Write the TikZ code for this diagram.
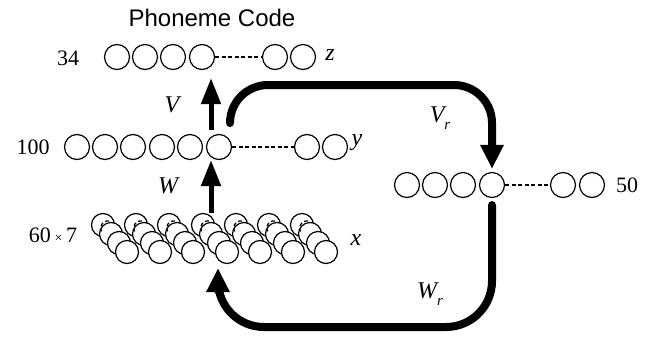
\documentclass[tikz,border=0pt]{standalone}
\usepackage{fontspec}
\setmainfont{Liberation Serif}
\newfontfamily\headfont{Liberation Sans}
\usetikzlibrary{arrows.meta,calc}

\begin{document}
\begin{tikzpicture}[x=1pt,y=-1pt,
        unit/.style={circle,draw,line width=1.2pt,minimum size=25pt,inner sep=0pt,fill=white},
        cell/.style={circle,draw,line width=1.2pt,minimum size=23pt,inner sep=0pt,fill=white},
        gap/.style={dash pattern=on 4pt off 2.5pt,line width=1.1pt},
        uparrow/.style={line width=5pt,-{Triangle[length=26pt,width=19pt]}},
        looparrow/.style={line width=8pt,line cap=round,-{Triangle[length=24pt,width=22pt]}},
        lab/.style={font=\fontsize{22}{22}\selectfont},
        var/.style={font=\fontsize{24}{24}\selectfont\itshape}]
    \useasboundingbox (0,0) rectangle (658,338);
    \node[font=\headfont\fontsize{24}{24}\selectfont] (title) at (212,18) {Phoneme Code};
    % output layer
    \foreach \i/\xx in {1/117,2/145,3/173,4/202,5/275,6/303}
        \node[unit] (z\i) at (\xx,57) {};
    \draw[gap] (z4) -- (z5);
    % hidden layer
    \foreach \i/\xx in {1/77,2/105,3/133,4/162,5/190,6/219,7/307,8/335}
        \node[unit] (y\i) at (\xx,147) {};
    \draw[gap] (y6) -- (y7);
    % context layer
    \foreach \i/\xx in {1/407,2/435,3/463,4/492,5/563,6/592}
        \node[unit] (r\i) at (\xx,185) {};
    \draw[gap] (r4) -- (r5);
    % input layer, 7 frames
    \foreach \i/\xx in {1/127,2/160,3/193,4/227,5/260,6/293,7/326}{
        \foreach \k in {3,2,1}
            \node[cell] (x\i-\k) at (\xx-8*\k,252-9*\k) {};
        \node[cell] (x\i) at (\xx,252) {};
        \draw[gap,line width=1.2pt] ($(x\i-3)+(6,-4)$) arc[start angle=80,end angle=210,radius=7pt];
    }
    % labels
    \node[lab] (n34) at (68,58) {34};
    \node[lab] (n100) at (33,147) {100};
    \node[lab] (n60) at (53,235) {60\,{\fontsize{14}{14}\selectfont ×}\,7};
    \node[lab] (n50) at (627,185) {50};
    \node[var] (lz) at (330,55) {z};
    \node[var] (ly) at (357,143) {y};
    \node[var] (lx) at (356,240) {x};
    \node[var] (lv) at (172,105) {V};
    \node[var] (lw) at (168,186) {W};
    \node[var] (lvr) at (440,118) {V\raisebox{-0.3em}{\fontsize{15}{15}\selectfont r}};
    \node[var] (lwr) at (430,294) {W\raisebox{-0.3em}{\fontsize{15}{15}\selectfont r}};
    % connections
    \coordinate (ax) at (211,0);
    \draw[uparrow,shorten <=4pt,shorten >=8pt] (y6.north -| ax) -- (z4.south -| ax);
    \draw[uparrow] (x4-3.north -| ax) -- (y6.south -| ax);
    \coordinate (vr0) at ([shift={(11,-24)}]y6.center);
    \coordinate (vtop) at (0,85);
    \draw[looparrow,rounded corners=38pt,shorten >=3pt] (vr0) -- (vr0 |- vtop) -- (r4 |- vtop) -- (r4.north);
    \coordinate (wbot) at (218,327);
    \draw[looparrow,rounded corners=46pt,shorten <=7pt,shorten >=4pt] (r4.south) -- (r4 |- wbot) -- (wbot) -- (wbot |- x4.south);
\end{tikzpicture}
\end{document}
